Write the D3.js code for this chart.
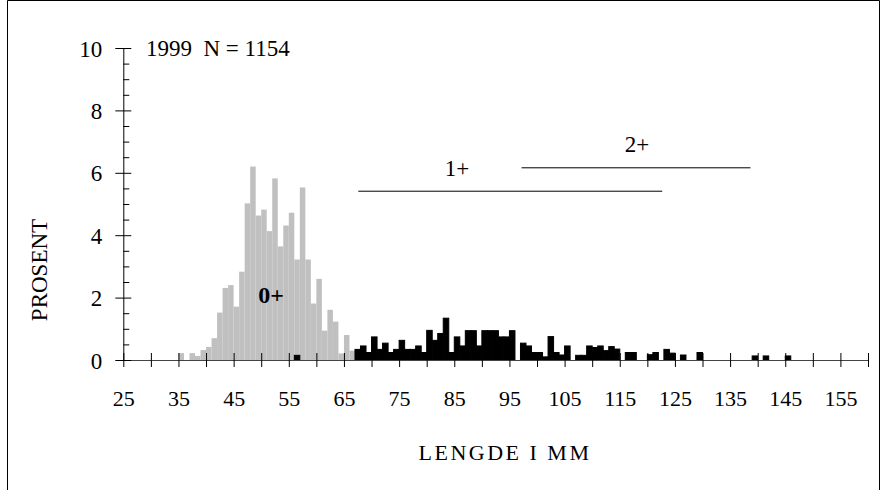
<!DOCTYPE html>
<html><head><meta charset="utf-8">
<script src="https://cdn.jsdelivr.net/npm/d3@7"></script>
<style>body{margin:0;background:#fff}svg{display:block}</style>
</head><body>
<svg id="c" width="881" height="490"></svg>
<script>
// 0+ (gray) histogram: length bin (mm) and percent
const grayBins   = [35,36,37,38,39,40,41,42,43,44,45,46,47,48,49,50,51,52,53,54,55,56,57,58,59,60,61,62,63,64,65,66];
const grayValues = [0.22,0,0.22,0.13,0.32,0.42,0.70,1.52,2.31,2.40,1.71,2.83,5.02,6.20,4.63,4.82,4.13,5.82,3.64,4.31,4.72,3.22,5.53,3.22,1.81,2.60,0.94,1.61,1.23,0.21,0.80,0.30];
// 1+ and 2+ (black) histogram
const blackBins   = [56,67,68,69,70,71,72,73,74,75,76,77,78,79,80,81,82,83,84,85,86,87,88,89,90,91,92,93,94,95,97,98,99,100,101,102,103,104,105,107,108,109,110,111,112,113,114,116,117,120,121,123,124,126,129,139,141,145];
const blackValues = [0.15,0.34,0.45,0.24,0.74,0.34,0.54,0.24,0.34,0.63,0.34,0.34,0.45,0.24,0.95,0.63,0.85,1.34,0.24,0.74,0.45,0.94,0.94,0.45,0.94,0.94,0.94,0.74,0.74,0.94,0.54,0.45,0.24,0.24,0.10,0.75,0.24,0.16,0.45,0.15,0.15,0.45,0.40,0.45,0.30,0.43,0.35,0.24,0.24,0.17,0.24,0.34,0.22,0.16,0.24,0.13,0.13,0.13];
// age-group length ranges (mm) and their level (percent)
const groupNames  = ["1+","2+"];
const groupStart  = [67.6,97.2];
const groupEnd    = [122.7,138.7];
const groupLevel  = [5.41,6.16];
const xTicks      = [25,30,35,40,45,50,55,60,65,70,75,80,85,90,95,100,105,110,115,120,125,130,135,140,145,150,155,160];
const yTicks      = [0,2,4,6,8,10];
const yMinorTicks = [0.5,1,1.5,2.5,3,3.5,4.5,5,5.5,6.5,7,7.5,8.5,9,9.5];

const FONT = "'Liberation Serif','Times New Roman',serif";
const svg = d3.select("#c");

// frame
svg.append("path").attr("d","M7.5,490 V0.5 H879.5 V490").attr("fill","none").attr("stroke","#000").attr("stroke-width",1);

const x = d3.scaleLinear().domain([25,160]).range([123.3,868]);
const y = d3.scaleLinear().domain([0,10]).range([360,48]);

const gray = grayBins.map((b,i)=>({b, v:grayValues[i]})).filter(d=>d.v>0);
const black = blackBins.map((b,i)=>({b, v:blackValues[i]})).filter(d=>d.v>0);

svg.append("g").selectAll("rect").data(gray).join("rect")
  .attr("x", d=>x(d.b)).attr("width", d=>x(d.b+1)-x(d.b))
  .attr("y", d=>y(d.v)).attr("height", d=>y(0)-y(d.v))
  .attr("fill","#c0c0c0");

svg.append("g").selectAll("rect").data(black).join("rect")
  .attr("x", d=>x(d.b)).attr("width", d=>x(d.b+1)-x(d.b))
  .attr("y", d=>y(d.v)).attr("height", d=>y(0)-y(d.v))
  .attr("fill","#000").attr("stroke","#000").attr("stroke-width",1);

// x axis
const gx = svg.append("g").attr("transform",`translate(0,${y(0)})`)
  .call(d3.axisBottom(x).tickValues(xTicks).tickSize(7).tickSizeOuter(0)
        .tickFormat(d => (d%10===5 && d<160) ? d : ""));
gx.select(".domain").attr("stroke","#444");
gx.selectAll(".tick line").attr("y1",-7).attr("stroke","#000");
gx.selectAll(".tick text").attr("y",46).attr("dy",null)
  .attr("font-family",FONT).attr("font-size",22).attr("fill","#000");

// y axis major
const gy = svg.append("g").attr("transform",`translate(${x(25)},0)`)
  .call(d3.axisLeft(y).tickValues(yTicks).tickSize(8).tickSizeOuter(0).tickFormat(d3.format("d")));
gy.select(".domain").attr("stroke","#000");
gy.selectAll(".tick line").attr("x1",8).attr("stroke","#000");
gy.selectAll(".tick text").attr("x",-21).attr("dy","0.35em")
  .attr("font-family",FONT).attr("font-size",23).attr("fill","#000");

// y axis minor
const gm = svg.append("g").attr("transform",`translate(${x(25)},0)`)
  .call(d3.axisRight(y).tickValues(yMinorTicks).tickSize(6).tickFormat(""));
gm.select(".domain").remove();
gm.selectAll(".tick line").attr("stroke","#000");

// group range lines and labels
const gg = svg.append("g");
groupNames.forEach((n,i)=>{
  gg.append("line").attr("x1",x(groupStart[i])).attr("x2",x(groupEnd[i]))
    .attr("y1",y(groupLevel[i])).attr("y2",y(groupLevel[i]))
    .attr("stroke","#000").attr("stroke-width",1);
});
gg.append("text").attr("x",457).attr("y",176).attr("text-anchor","middle")
  .attr("font-family",FONT).attr("font-size",23).text(groupNames[0]);
gg.append("text").attr("x",637).attr("y",152).attr("text-anchor","middle")
  .attr("font-family",FONT).attr("font-size",23).text(groupNames[1]);

svg.append("text").attr("x",271).attr("y",303).attr("text-anchor","middle")
  .attr("font-family",FONT).attr("font-size",24).attr("font-weight","bold").text("0+");

svg.append("text").attr("x",146).attr("y",56)
  .attr("font-family",FONT).attr("font-size",23).attr("xml:space","preserve").style("white-space","pre")
  .text("1999  N = 1154");

svg.append("text").attr("transform","translate(47,270) rotate(-90)").attr("text-anchor","middle")
  .attr("font-family",FONT).attr("font-size",23).text("PROSENT");

svg.append("text").attr("x",505).attr("y",460).attr("text-anchor","middle")
  .attr("font-family",FONT).attr("font-size",22).attr("letter-spacing",2.5).text("LENGDE I MM");
</script>
</body></html>
